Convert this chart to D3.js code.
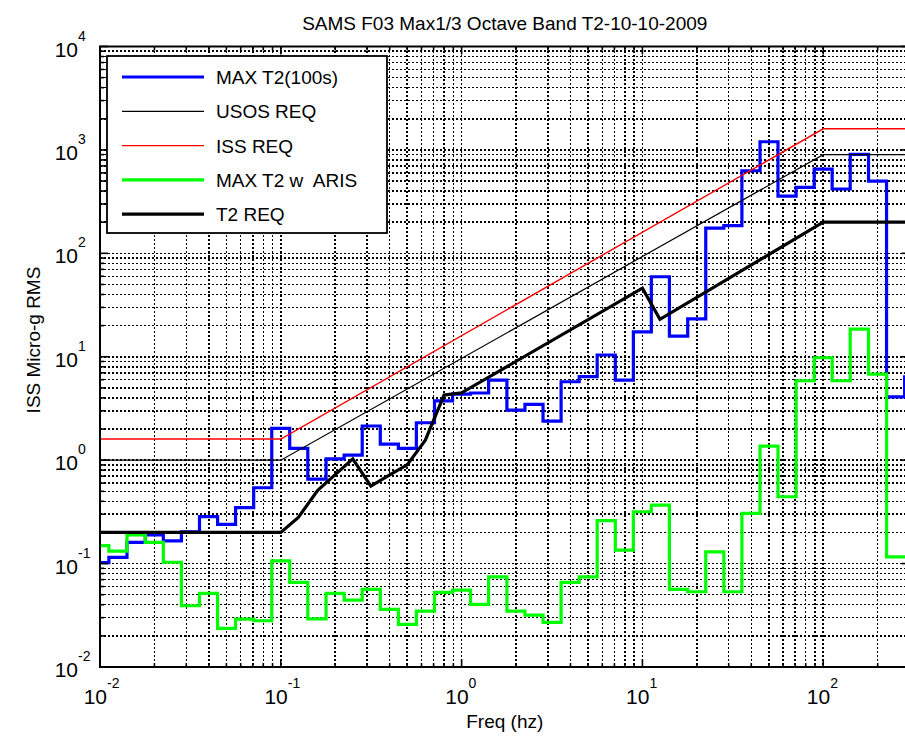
<!DOCTYPE html>
<html lang="en">
<head>
<meta charset="UTF-8">
<script src="https://d3js.org/d3.v7.min.js"></script>
<title>SAMS F03 Max1/3 Octave Band</title>
<style>
  body { margin: 0; background: #fff; }
  text { font-family: "Liberation Sans", Arial, sans-serif; fill: #000; }
</style>
</head>
<body>
<div id="vis"></div>
<script>
// 1/3 octave band edges (Hz) where the stair lines step
var bandEdges = [0.0112, 0.0141, 0.0178, 0.0224, 0.0282, 0.0355, 0.0447, 0.0562, 0.0708, 0.0891,
                 0.112, 0.141, 0.178, 0.224, 0.282, 0.355, 0.447, 0.562, 0.708, 0.891,
                 1.12, 1.41, 1.78, 2.24, 2.82, 3.55, 4.47, 5.62, 7.08, 8.91,
                 11.2, 14.1, 17.8, 22.4, 28.2, 35.5, 44.7, 56.2, 70.8, 89.1,
                 112, 141, 178, 224, 282];

// band values, one per band (first band starts at 0.01 Hz)
var maxT2 = [0.102, 0.115, 0.160, 0.189, 0.166, 0.203, 0.284, 0.239, 0.347, 0.541,
             2.03, 1.30, 0.656, 1.03, 1.12, 2.14, 1.43, 1.30, 2.30, 3.75,
             4.36, 4.46, 5.95, 3.05, 3.46, 2.39, 5.73, 6.41, 10.4, 5.95,
             17.4, 59.4, 15.8, 23.2, 175, 185, 629, 1200, 358, 435,
             653, 419, 906, 500, 4.10, 6.4];

var maxT2Aris = [0.149, 0.132, 0.189, 0.160, 0.103, 0.0391, 0.0515, 0.0236, 0.0290, 0.0280,
                 0.106, 0.0658, 0.0292, 0.0515, 0.0444, 0.0563, 0.0361, 0.0258, 0.0347, 0.0526,
                 0.0554, 0.0403, 0.0745, 0.0347, 0.0318, 0.0270, 0.0658, 0.0745, 0.260, 0.135,
                 0.317, 0.368, 0.0563, 0.0534, 0.130, 0.0534, 0.306, 1.37, 0.443, 5.86,
                 9.78, 5.86, 18.5, 6.80, 0.116, 0.116];

// requirement curves
var usosFreq = [0.01, 0.1, 100, 300],
    usosReq  = [1, 1, 900, 900];
var issFreq  = [0.01, 0.1, 100, 300],
    issReq   = [1.6, 1.6, 1600, 1600];
var t2Freq = [0.01, 0.1, 0.125, 0.16, 0.25, 0.315, 0.4, 0.5, 0.63, 0.7, 0.8, 1, 10, 12.5, 100, 300],
    t2Req  = [0.2, 0.2, 0.28, 0.51, 1.03, 0.56, 0.72, 0.9, 1.56, 2.44, 4.26, 4.48, 46, 23, 200, 200];

var xDomain = [0.01, 300],
    yDomain = [0.01, 10000];

var legendLabels = ["MAX T2(100s)", "USOS REQ", "ISS REQ", "MAX T2 w  ARIS", "T2 REQ"];

var width = 905, height = 747,
    pL = 100, pR = 909.5, pT = 46.5, pB = 667;

var svg = d3.select("#vis").append("svg").attr("width", width).attr("height", height);

var x = d3.scaleLog().domain(xDomain).range([pL, pR]),
    y = d3.scaleLog().domain(yDomain).range([pB, pT]);

function isDecade(v) {
    var l = Math.log10(v);
    return Math.abs(l - Math.round(l)) < 1e-9;
}

var xt = x.ticks(), yt = y.ticks();

// grid (dotted, under the data)
var grid = svg.append("g").attr("stroke", "#000").attr("stroke-width", 1.5)
    .attr("stroke-dasharray", "2,2").attr("shape-rendering", "crispEdges");
grid.selectAll(".gx").data(xt).enter().append("line")
    .attr("x1", function(d){ return x(d); }).attr("x2", function(d){ return x(d); })
    .attr("y1", pT).attr("y2", pB);
grid.selectAll(".gy").data(yt).enter().append("line")
    .attr("x1", pL).attr("x2", pR)
    .attr("y1", function(d){ return y(d); }).attr("y2", function(d){ return y(d); });

svg.append("clipPath").attr("id", "clip").append("rect")
    .attr("x", pL).attr("y", pT).attr("width", pR - pL).attr("height", pB - pT);

var plot = svg.append("g").attr("clip-path", "url(#clip)");

var line = d3.line().x(function(d){ return x(d[0]); }).y(function(d){ return y(d[1]); });
var stairs = d3.line().x(function(d){ return x(d[0]); }).y(function(d){ return y(d[1]); }).curve(d3.curveStepAfter);

function bandPoints(vals) {
    var fr = [xDomain[0]].concat(bandEdges);
    var pts = fr.map(function(f, i){ return [f, vals[i]]; });
    pts.push([xDomain[1], vals[vals.length - 1]]);
    return pts;
}
function zip(f, v) { return f.map(function(d, i){ return [d, v[i]]; }); }

var series = [
    {pts: bandPoints(maxT2), color: "#0000ff", w: 3.2, step: true},
    {pts: zip(usosFreq, usosReq), color: "#000", w: 1.2},
    {pts: zip(issFreq, issReq), color: "#ff0000", w: 1.4},
    {pts: bandPoints(maxT2Aris), color: "#00ff00", w: 3.2, step: true},
    {pts: zip(t2Freq, t2Req), color: "#000", w: 3.2}
];

series.forEach(function(s){
    plot.append("path").datum(s.pts)
        .attr("d", s.step ? stairs : line)
        .attr("fill", "none").attr("stroke", s.color).attr("stroke-width", s.w)
        .attr("stroke-linejoin", "miter");
});

// axes box and inward ticks
var ax = svg.append("g").attr("stroke", "#000").attr("stroke-width", 1.6);
xt.forEach(function(d){
    var len = isDecade(d) ? 8 : 4;
    ax.append("line").attr("x1", x(d)).attr("x2", x(d)).attr("y1", pB).attr("y2", pB - len);
    ax.append("line").attr("x1", x(d)).attr("x2", x(d)).attr("y1", pT).attr("y2", pT + len);
});
yt.forEach(function(d){
    var len = isDecade(d) ? 8 : 4;
    ax.append("line").attr("x1", pL).attr("x2", pL + len).attr("y1", y(d)).attr("y2", y(d));
    ax.append("line").attr("x1", pR).attr("x2", pR - len).attr("y1", y(d)).attr("y2", y(d));
});
svg.append("rect").attr("x", pL).attr("y", pT).attr("width", pR - pL).attr("height", pB - pT)
    .attr("fill", "none").attr("stroke", "#000").attr("stroke-width", 2);

// tick labels 10^n
xt.filter(isDecade).forEach(function(d){
    var g = svg.append("g");
    g.append("text").attr("x", x(d) + 7).attr("y", pB + 37).attr("text-anchor", "end")
        .style("font-size", "21px").text("10");
    g.append("text").attr("x", x(d) + 7).attr("y", pB + 21)
        .style("font-size", "14px").text(Math.round(Math.log10(d)));
});
yt.filter(isDecade).forEach(function(d){
    var g = svg.append("g");
    g.append("text").attr("x", 78).attr("y", y(d) + 10).attr("text-anchor", "end")
        .style("font-size", "21px").text("10");
    g.append("text").attr("x", 78).attr("y", y(d) - 6)
        .style("font-size", "14px").text(Math.round(Math.log10(d)));
});

// title and axis labels
svg.append("text").attr("x", (pL + pR) / 2).attr("y", 30).attr("text-anchor", "middle")
    .style("font-size", "19px").text("SAMS F03 Max1/3 Octave Band T2-10-10-2009");
svg.append("text").attr("x", (pL + pR) / 2).attr("y", 728).attr("text-anchor", "middle")
    .style("font-size", "19px").text("Freq (hz)");
svg.append("text").attr("transform", "translate(40,340) rotate(-90)")
    .attr("text-anchor", "middle").style("font-size", "19px").text("ISS Micro-g RMS");

// legend
var lg = svg.append("g");
lg.append("rect").attr("x", 107).attr("y", 56).attr("width", 280).attr("height", 177)
    .attr("fill", "#fff").attr("stroke", "#000").attr("stroke-width", 1.8);
series.forEach(function(s, i){
    var ly = 77 + i * 34.3;
    lg.append("line").attr("x1", 122).attr("x2", 204).attr("y1", ly).attr("y2", ly)
        .attr("stroke", s.color).attr("stroke-width", s.w);
    lg.append("text").attr("x", 216).attr("y", ly + 7).style("font-size", "19px")
        .style("white-space", "pre").text(legendLabels[i]);
});
</script>
</body>
</html>
